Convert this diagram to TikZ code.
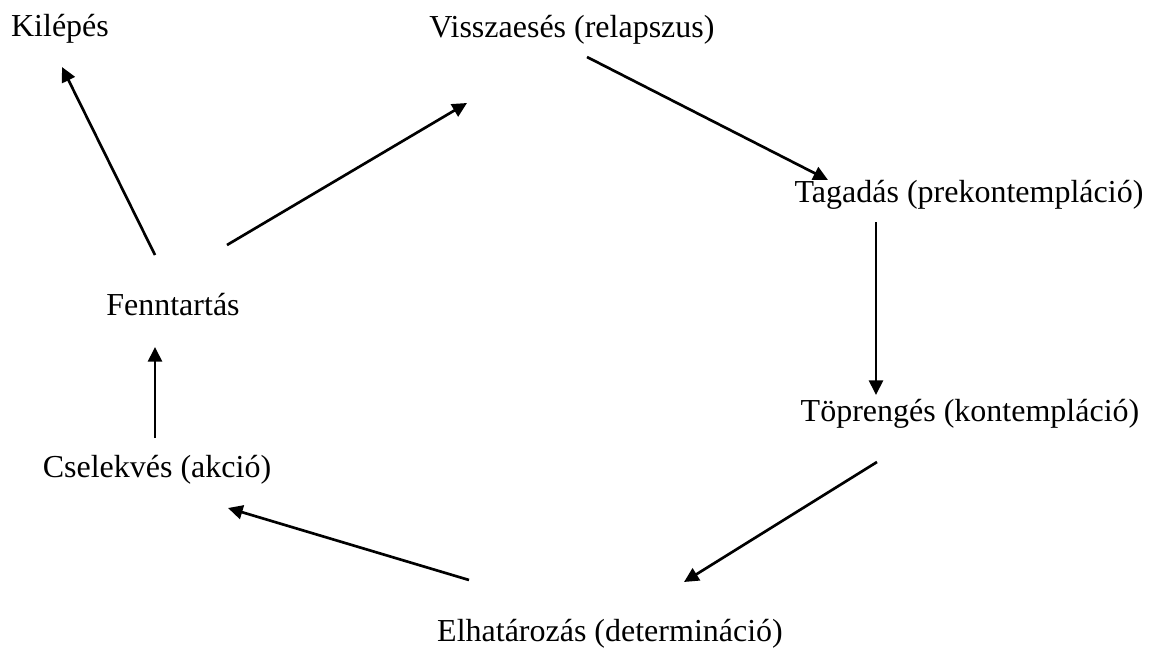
\documentclass[tikz,border=0pt]{standalone}
\usepackage{fontspec}
\setmainfont{Liberation Serif}
\usetikzlibrary{arrows.meta}
\begin{document}
\begin{tikzpicture}[x=0.75pt,y=-0.75pt,
  lbl/.style={font=\fontsize{24}{28}\selectfont, inner sep=0pt, anchor=center},
  arr/.style={line width=2pt, -{Triangle[length=11pt,width=10.5pt]}}]
\useasboundingbox (0,0) rectangle (1154,650);
\node[lbl] (kil) at (60,29) {Kilépés};
\node[lbl] (vis) at (572,30) {Visszaesés (relapszus)};
\node[lbl] (tag) at (969,195) {Tagadás (prekontempláció)};
\node[lbl] (top) at (970,414) {Töprengés (kontempláció)};
\node[lbl] (elh) at (610,634) {Elhatározás (determináció)};
\node[lbl] (csel) at (157,470) {Cselekvés (akció)};
\node[lbl] (fenn) at (173,305) {Fenntartás};
\coordinate (a1s) at (155,255); \coordinate (a1e) at (62,67);
\coordinate (a2s) at (227,245); \coordinate (a2e) at (467,103);
\coordinate (a3s) at (587,57);  \coordinate (a3e) at (828,180);
\coordinate (a4s) at (876,222); \coordinate (a4e) at (876,395);
\coordinate (a5s) at (877,462); \coordinate (a5e) at (684,582);
\coordinate (a6s) at (469,580); \coordinate (a6e) at (228,508);
\coordinate (a7s) at (155,438); \coordinate (a7e) at (155,347);
\draw[arr] (a1s) -- (a1e);
\draw[arr] (a2s) -- (a2e);
\draw[arr] (a3s) -- (a3e);
\draw[arr] (a4s) -- (a4e);
\draw[arr] (a5s) -- (a5e);
\draw[arr] (a6s) -- (a6e);
\draw[arr] (a7s) -- (a7e);
\end{tikzpicture}
\end{document}
